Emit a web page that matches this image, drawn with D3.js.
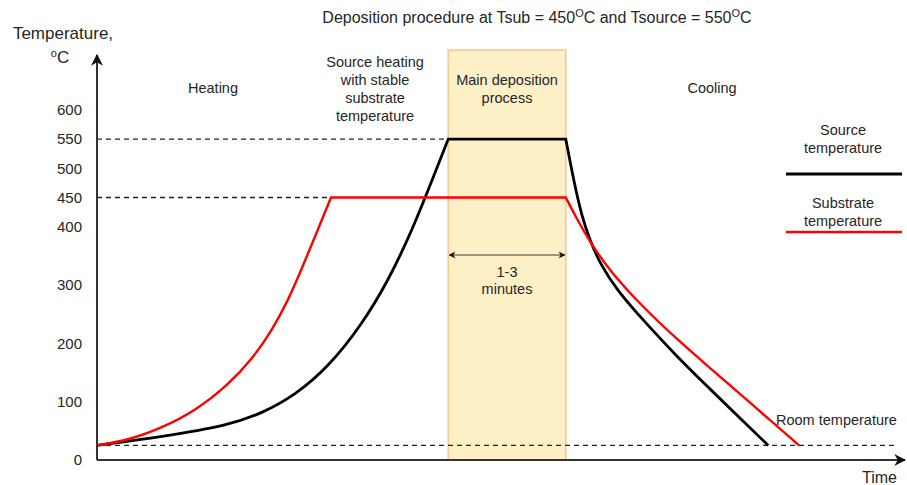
<!DOCTYPE html>
<html>
<head>
<meta charset="utf-8">
<script src="https://cdn.jsdelivr.net/npm/d3@7"></script>
<style>
  html, body { margin: 0; padding: 0; background: #fff; }
  svg { display: block; font-family: "Liberation Sans", Arial, sans-serif; }
</style>
</head>
<body>
<svg id="chart" width="907" height="485"></svg>
<script>
// ---- data (time in arbitrary units, temperature in °C) ----
const yTicks = [0, 100, 200, 300, 400, 450, 500, 550, 600];
const roomTemp = 25;
const tsub = 450;
const tsource = 550;
const depositionStart = 43.9;
const depositionEnd = 58.6;

const sourceHeatT = [0, 8.1, 16.4, 20.6, 24.75, 28.9, 33.1, 36.4, 39.4, 41.9, 43.9];
const sourceHeatV = [25, 40, 59, 80, 111, 159, 232, 307, 394, 480, 550];
const sourceCoolT = [58.6, 59.6, 60.6, 61.6, 62.9, 65.0, 68.25, 72.5, 76.6, 80.75, 83.9];
const sourceCoolV = [550, 478, 418, 377, 336, 291, 240, 177, 122, 67, 25];

const substrateHeatT = [0, 3.9, 8.1, 12.25, 16.4, 19.4, 21.9, 23.9, 25.6, 27.25, 29.25];
const substrateHeatV = [25, 34, 55, 84, 129, 173, 223, 274, 328, 383, 450];
const substrateCoolT = [58.6, 60, 61.6, 64.1, 68.25, 72.5, 76.6, 80.75, 85, 87.75];
const substrateCoolV = [450, 413, 374, 324, 262, 207, 158, 109, 58, 25];

const xMax = 101;

// ---- scales ----
const svg = d3.select("#chart");
const x = d3.scaleLinear().domain([0, xMax]).range([97, 905]);
const y = d3.scaleLinear().domain([0, 600]).range([460, 110]);
const textColor = "#262626";
const bodySize = 14.5;

// defs: arrowheads
const defs = svg.append("defs");
defs.append("marker").attr("id", "arrowAxis")
  .attr("viewBox", "0 0 10 10").attr("refX", 9).attr("refY", 5)
  .attr("markerWidth", 6).attr("markerHeight", 6).attr("orient", "auto")
  .append("path").attr("d", "M0,0 L10,5 L0,10 L3,5 Z").attr("fill", "#111");
defs.append("marker").attr("id", "arrowSmall")
  .attr("viewBox", "0 0 10 10").attr("refX", 9).attr("refY", 5)
  .attr("markerWidth", 7).attr("markerHeight", 7).attr("orient", "auto-start-reverse")
  .attr("markerUnits", "userSpaceOnUse")
  .append("path").attr("d", "M0,0 L10,5 L0,10 L3,5 Z").attr("fill", "#111");

// deposition box
svg.append("rect")
  .attr("x", x(depositionStart)).attr("y", 50)
  .attr("width", x(depositionEnd) - x(depositionStart))
  .attr("height", y(0) - 50)
  .attr("fill", "#fdf0c6").attr("stroke", "#fbc68a").attr("stroke-width", 1.5);

// dashed reference lines
const dash = "5,4";
svg.append("line").attr("x1", x(0)).attr("x2", x(depositionStart))
  .attr("y1", y(tsource)).attr("y2", y(tsource))
  .attr("stroke", "#222").attr("stroke-width", 1.3).attr("stroke-dasharray", dash);
svg.append("line").attr("x1", x(0)).attr("x2", x(substrateHeatT[substrateHeatT.length - 1]))
  .attr("y1", y(tsub)).attr("y2", y(tsub))
  .attr("stroke", "#222").attr("stroke-width", 1.3).attr("stroke-dasharray", dash);
svg.append("line").attr("x1", x(0)).attr("x2", 898)
  .attr("y1", y(roomTemp)).attr("y2", y(roomTemp))
  .attr("stroke", "#222").attr("stroke-width", 1.3).attr("stroke-dasharray", dash);

// axes
svg.append("line").attr("x1", x(0)).attr("x2", x(0)).attr("y1", y(0)).attr("y2", 55)
  .attr("stroke", "#333").attr("stroke-width", 2).attr("marker-end", "url(#arrowAxis)");
svg.append("line").attr("x1", x(0)).attr("x2", x(xMax)).attr("y1", y(0)).attr("y2", y(0))
  .attr("stroke", "#333").attr("stroke-width", 2).attr("marker-end", "url(#arrowAxis)");

const yAxis = svg.append("g").attr("transform", `translate(${x(0) - 15},0)`)
  .call(d3.axisLeft(y).tickValues(yTicks).tickSize(0).tickPadding(0));
yAxis.select(".domain").remove();
yAxis.selectAll("text").attr("font-size", 15).attr("fill", textColor)
  .attr("font-family", "Liberation Sans, Arial, sans-serif");

// curves
const smooth = d3.line().x(d => x(d[0])).y(d => y(d[1])).curve(d3.curveBasis);
const lin = d3.line().x(d => x(d[0])).y(d => y(d[1]));
function pts(ts, vs) { return ts.map((t, i) => [t, vs[i]]); }

function series(heatT, heatV, coolT, coolV, color, width) {
  const heat = pts(heatT, heatV);
  const cool = pts(coolT, coolV);
  const flat = [heat[heat.length - 1], cool[0]];
  const d = smooth(heat) + lin(flat).replace(/^M/, "L") + smooth(cool).replace(/^M/, "L");
  svg.append("path").attr("d", d).attr("fill", "none")
    .attr("stroke", color).attr("stroke-width", width).attr("stroke-linejoin", "miter");
}
series(sourceHeatT, sourceHeatV, sourceCoolT, sourceCoolV, "#000", 2.8);
series(substrateHeatT, substrateHeatV, substrateCoolT, substrateCoolV, "#f00", 2.4);

// 1-3 minutes arrow
svg.append("line").attr("x1", x(depositionStart) + 1).attr("x2", x(depositionEnd) - 1)
  .attr("y1", 255).attr("y2", 255)
  .attr("stroke", "#7a7a66").attr("stroke-width", 1.3)
  .attr("marker-start", "url(#arrowSmall)").attr("marker-end", "url(#arrowSmall)");

// texts
function multi(lines, cx, y0, dy, size, anchor) {
  const t = svg.append("text").attr("x", cx).attr("y", y0)
    .attr("text-anchor", anchor || "middle").attr("font-size", size || bodySize).attr("fill", textColor);
  lines.forEach((s, i) => t.append("tspan").attr("x", cx).attr("dy", i === 0 ? 0 : dy).text(s));
  return t;
}

// title with superscripts
const title = svg.append("text").attr("x", 537).attr("y", 23).attr("text-anchor", "middle")
  .attr("font-size", 16).attr("fill", textColor);
title.append("tspan").text("Deposition procedure at Tsub = " + tsub);
title.append("tspan").attr("font-size", 11).attr("dy", -6).text("O");
title.append("tspan").attr("dy", 6).text("C and Tsource = " + tsource);
title.append("tspan").attr("font-size", 11).attr("dy", -6).text("O");
title.append("tspan").attr("dy", 6).text("C");

multi(["Temperature,"], 63, 39, 0, 17);
const degC = svg.append("text").attr("x", 60).attr("y", 63).attr("text-anchor", "middle")
  .attr("font-size", 17).attr("fill", textColor);
degC.append("tspan").attr("font-size", 11).attr("dy", -6).text("o");
degC.append("tspan").attr("dy", 6).text("C");

multi(["Heating"], 213, 93);
multi(["Source heating", "with stable", "substrate", "temperature"], 375, 67, 18);
multi(["Main deposition", "process"], 507, 85, 18);
multi(["Cooling"], 712, 93);
multi(["1-3", "minutes"], 507, 277, 17);
multi(["Source", "temperature"], 843, 135, 18);
multi(["Substrate", "temperature"], 843, 208, 18);
multi(["Room temperature"], 776, 425, 0, bodySize, "start");
multi(["Time"], 862, 483, 0, 16, "start");

// legend lines
svg.append("line").attr("x1", 786).attr("x2", 902).attr("y1", 174).attr("y2", 174)
  .attr("stroke", "#000").attr("stroke-width", 3);
svg.append("line").attr("x1", 786).attr("x2", 902).attr("y1", 232).attr("y2", 232)
  .attr("stroke", "#f00").attr("stroke-width", 2.5);
</script>
</body>
</html>
